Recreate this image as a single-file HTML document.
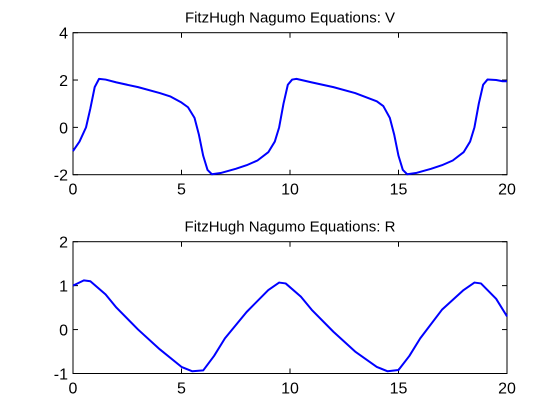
<!DOCTYPE html>
<html><head><meta charset="utf-8"><style>
body{margin:0;background:#fff;}
svg{display:block;font-family:"Liberation Sans",sans-serif;}
</style></head><body>
<svg id="c" width="560" height="420"></svg>
<script>
const tV=[0,0.3,0.6,0.8,1.0,1.2,1.5,2,3,4,4.5,5,5.3,5.6,5.8,6.0,6.2,6.4,6.8,7.5,8,8.5,9,9.3,9.5,9.7,9.9,10.1,10.3,11,12,13,14,14.3,14.6,14.8,15.0,15.2,15.4,15.8,16.5,17,17.5,18,18.3,18.5,18.7,18.9,19.1,19.5,19.8,20];
const vVals=[-1,-0.6,0,0.8,1.7,2.05,2.02,1.9,1.7,1.45,1.3,1.05,0.85,0.4,-0.3,-1.2,-1.8,-1.98,-1.93,-1.75,-1.6,-1.4,-1.05,-0.6,0,1.0,1.8,2.02,2.05,1.9,1.7,1.45,1.1,0.9,0.4,-0.3,-1.2,-1.8,-1.98,-1.93,-1.75,-1.6,-1.4,-1.05,-0.6,0,1.0,1.8,2.02,2.0,1.95,1.95];
const tR=[0,0.5,0.8,1.5,2,3,4,5,5.5,6,6.5,7,8,9,9.5,9.8,10.5,11,12,13,14,14.5,15,15.5,16,17,18,18.5,18.8,19.5,20];
const rVals=[1.0,1.12,1.1,0.8,0.5,0.0,-0.45,-0.85,-0.95,-0.93,-0.6,-0.2,0.4,0.9,1.07,1.05,0.75,0.45,-0.05,-0.5,-0.85,-0.95,-0.92,-0.6,-0.2,0.45,0.9,1.07,1.05,0.7,0.3];
const xTicks=[0,5,10,15,20];
const vTicks=[-2,0,2,4];
const rTicks=[-1,0,1,2];
const svg=document.getElementById('c');
const NS='http://www.w3.org/2000/svg';
function mk(tag,attrs){const e=document.createElementNS(NS,tag);for(const k in attrs)e.setAttribute(k,attrs[k]);svg.appendChild(e);return e;}
function panel(name,title,top,bot,ymin,ymax,yt,ts,ys){
  const L=73,R=507;
  const sx=t=>L+(t-0)/(20-0)*(R-L);
  const sy=v=>bot-(v-ymin)/(ymax-ymin)*(bot-top);
  const f=mk('rect',{x:L,y:top,width:R-L,height:bot-top,fill:'#fff',stroke:'#000','stroke-width':1});
  
  xTicks.forEach(t=>{
    mk('line',{x1:sx(t),x2:sx(t),y1:bot,y2:bot-5,stroke:'#000'});
    mk('line',{x1:sx(t),x2:sx(t),y1:top,y2:top+5,stroke:'#000'});
    const tx=mk('text',{x:sx(t),y:bot+20,'font-size':16,'text-anchor':'middle'});tx.textContent=t;
    
  });
  yt.forEach(v=>{
    mk('line',{x1:L,x2:L+5,y1:sy(v),y2:sy(v),stroke:'#000'});
    mk('line',{x1:R,x2:R-5,y1:sy(v),y2:sy(v),stroke:'#000'});
    const tx=mk('text',{x:L-5,y:sy(v)+6,'font-size':16,'text-anchor':'end'});tx.textContent=v;
    
  });
  const p=mk('polyline',{points:ts.map((t,i)=>sx(t)+','+sy(ys[i])).join(' '),fill:'none',stroke:'#0000ff','stroke-width':2,'stroke-linejoin':'round'});
  
  const tt=mk('text',{x:(L+R)/2,y:top-10,'font-size':15,'text-anchor':'middle'});tt.textContent=title;
  
}
panel('v-plot','FitzHugh Nagumo Equations: V',32.7,174.7,-2,4,vTicks,tV,vVals);
panel('r-plot','FitzHugh Nagumo Equations: R',241.7,373.5,-1,2,rTicks,tR,rVals);
</script>
</body></html>
